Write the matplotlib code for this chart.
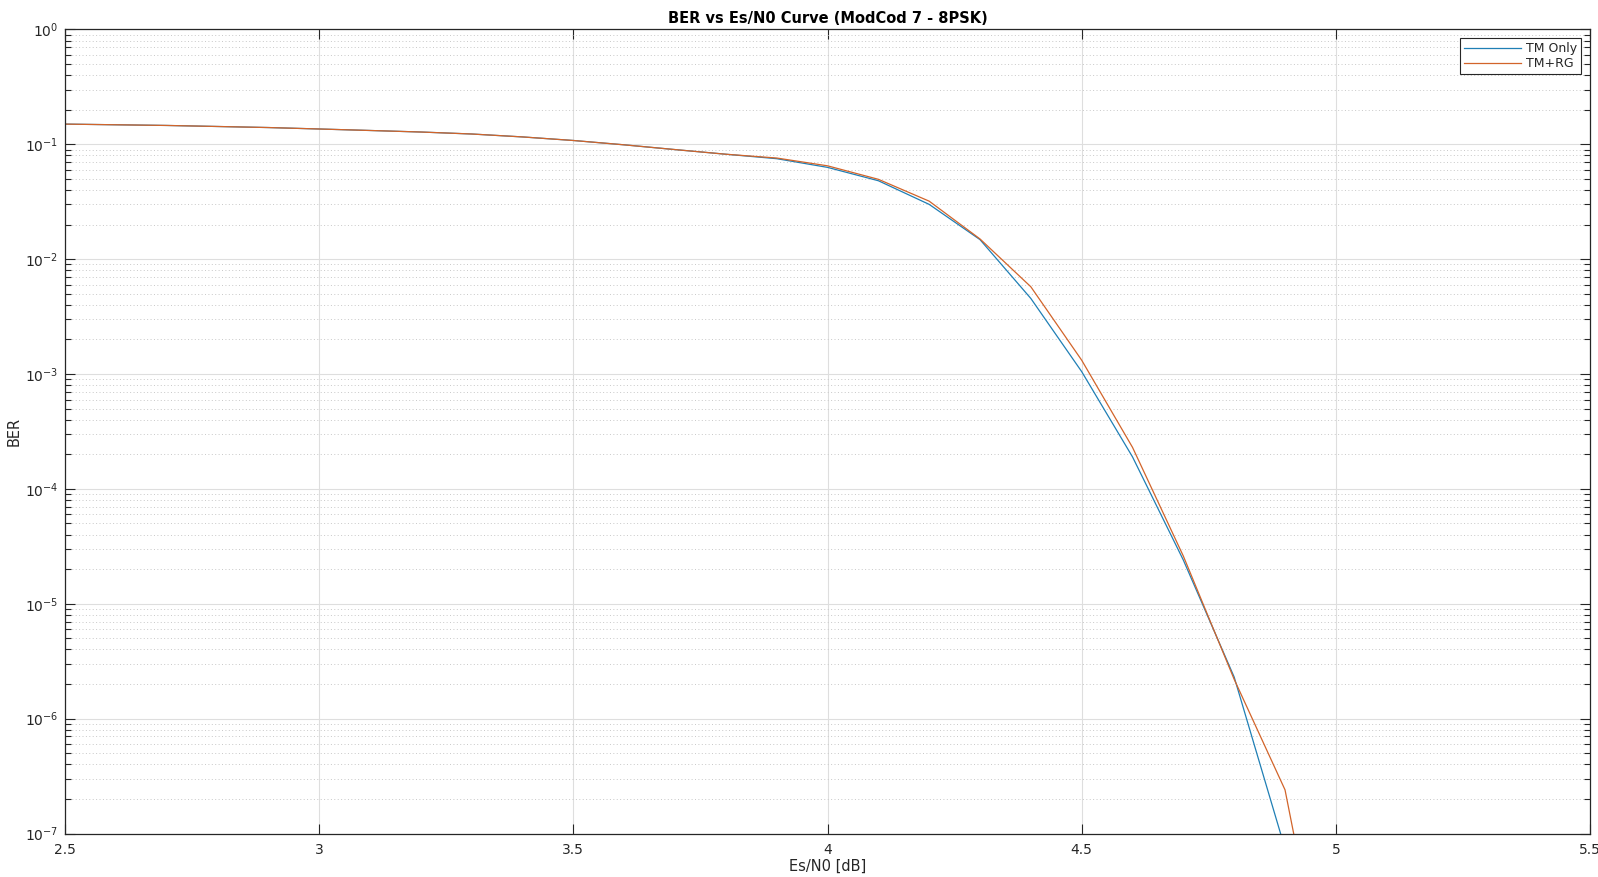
import matplotlib
matplotlib.use('Agg')
import matplotlib.pyplot as plt
import numpy as np
from matplotlib.ticker import LogLocator, NullFormatter

# Es/N0 en dB
esn0 = [2.5, 2.6, 2.7, 2.8, 2.9, 3.0, 3.1, 3.2, 3.3, 3.4, 3.5, 3.6, 3.7, 3.8,
        3.9, 4.0, 4.1, 4.2, 4.3, 4.4, 4.5, 4.6, 4.7, 4.8, 4.9]

# BER
ber_tm = [0.150, 0.148, 0.146, 0.143, 0.140, 0.136, 0.132, 0.128, 0.123, 0.116,
          0.108, 0.099, 0.090, 0.082, 0.075, 0.063, 0.0482, 0.030, 0.0148, 0.00455,
          1.05e-3, 1.9e-4, 2.4e-5, 2.3e-6, 7.4e-8]
ber_tm_rg = [0.150, 0.148, 0.146, 0.143, 0.140, 0.136, 0.132, 0.128, 0.123, 0.116,
             0.108, 0.099, 0.090, 0.082, 0.076, 0.065, 0.0496, 0.032, 0.0150, 0.00575,
             1.32e-3, 2.3e-4, 2.6e-5, 2.2e-6, 2.4e-7]
esn0_rg = esn0 + [5.0]
ber_tm_rg = ber_tm_rg + [1.4e-9]

x_ticks = [2.5, 3, 3.5, 4, 4.5, 5, 5.5]
x_labels = ['2.5', '3', '3.5', '4', '4.5', '5', '5.5']

txt = '#262626'
fig = plt.figure(figsize=(15.98, 8.77), dpi=100)
ax = fig.add_axes([0.0407, 0.0496, 0.9543, 0.9168])

ax.semilogy(esn0, ber_tm, color='#1f7fb5', lw=0.9, label='TM Only')
ax.semilogy(esn0_rg, ber_tm_rg, color='#d2642a', lw=0.9, label='TM+RG')

ax.set_xlim(2.5, 5.5)
ax.set_ylim(1e-7, 1)
ax.set_xticks(x_ticks)
ax.set_xticklabels(x_labels)
ax.yaxis.set_major_locator(LogLocator(base=10, numticks=10))
ax.yaxis.set_minor_locator(LogLocator(base=10, subs=np.arange(2, 10), numticks=100))
ax.yaxis.set_minor_formatter(NullFormatter())

# Rejilla estilo MATLAB
ax.grid(True, which='major', axis='both', color='#dedede', lw=0.8, ls='-')
ax.grid(True, which='minor', axis='y', color='#c8c8c8', lw=0.7, ls=(0, (1, 2.5)))
ax.set_axisbelow(True)

ax.tick_params(which='both', direction='in', top=True, right=True, colors=txt,
               labelsize=10)
ax.tick_params(which='major', length=7, width=0.8)
ax.tick_params(which='minor', length=4, width=0.8)
ax.tick_params(axis='x', which='major', pad=7)
ax.tick_params(axis='y', which='major', pad=5)
for s in ax.spines.values():
    s.set_color(txt)
    s.set_linewidth(0.9)

ax.set_xlabel('Es/N0 [dB]', fontsize=10.5, color=txt, labelpad=1)
ax.set_ylabel('BER', fontsize=10.5, color=txt, labelpad=2)
ax.set_title('BER vs Es/N0 Curve (ModCod 7 - 8PSK)', fontsize=10.5,
             fontweight='bold', pad=5)

leg = ax.legend(loc='upper right', fontsize=9, fancybox=False, framealpha=1,
                edgecolor=txt, handlelength=4.6, borderpad=0.3,
                labelspacing=0.2, handletextpad=0.4, borderaxespad=0.7)
leg.get_frame().set_linewidth(0.8)
for t in leg.get_texts():
    t.set_color(txt)

fig.savefig('out.png', dpi=100)
